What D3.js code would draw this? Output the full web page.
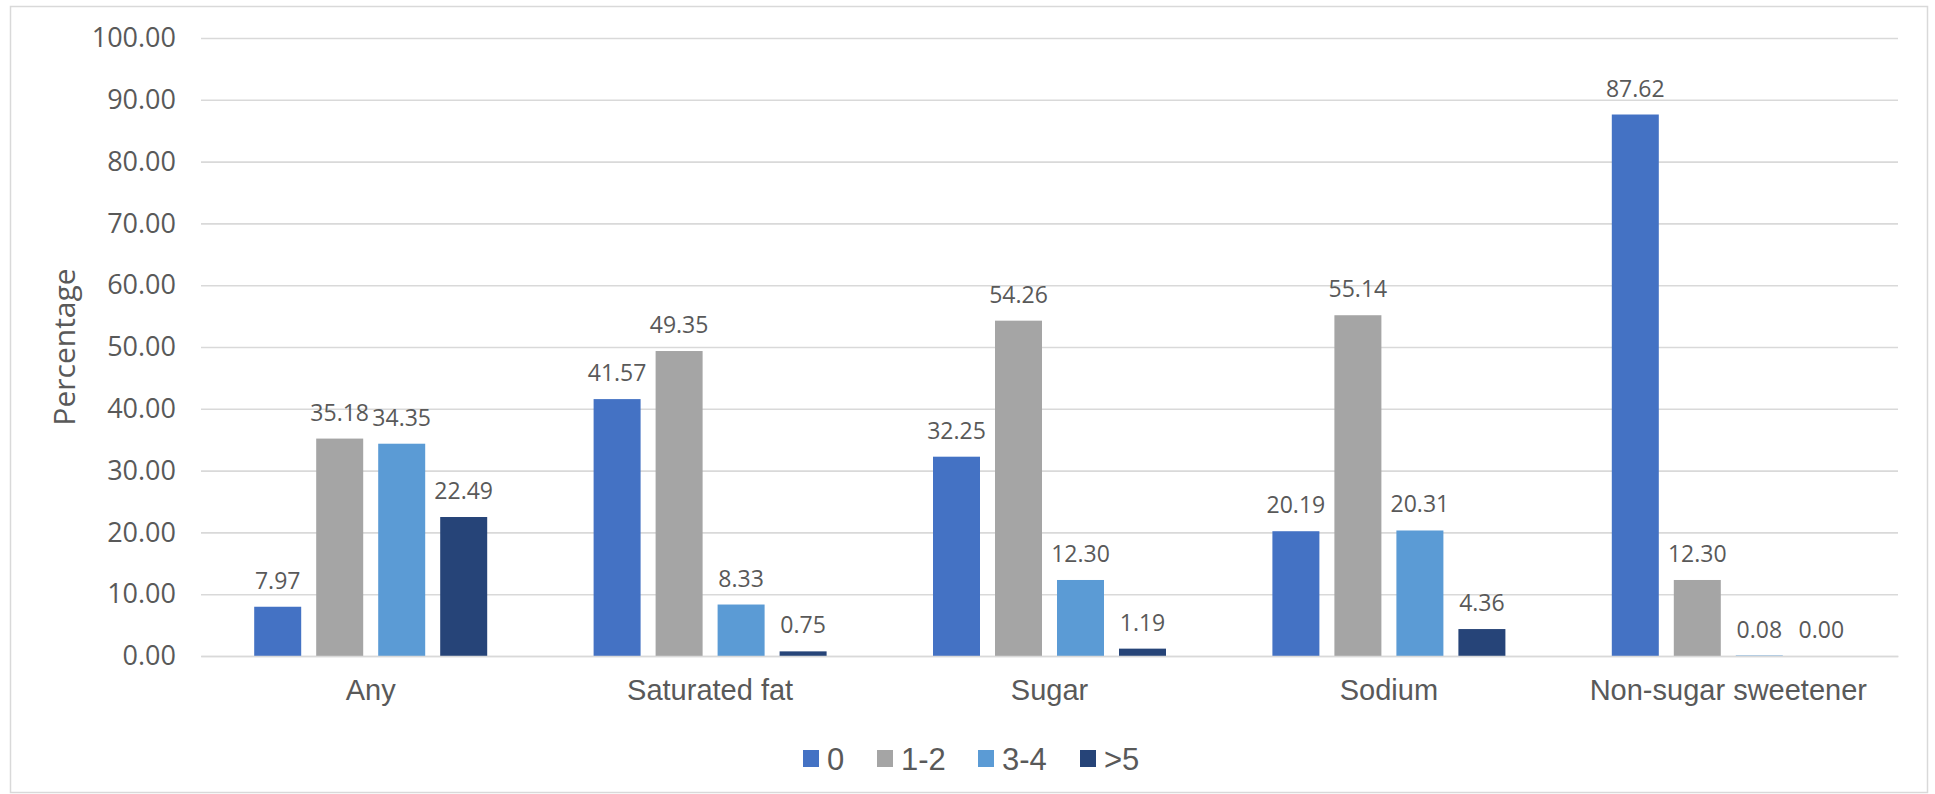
<!DOCTYPE html>
<html>
<head>
<meta charset="utf-8">
<script src="https://cdn.jsdelivr.net/npm/d3@7"></script>
<style>
  html, body { margin: 0; padding: 0; background: #fff; }
  svg { display: block; }
</style>
</head>
<body>
<svg id="chart" width="1935" height="794"></svg>
<script>
// Nutrient-warning categories and the share of products in each count band
const categories = ["Any", "Saturated fat", "Sugar", "Sodium", "Non-sugar sweetener"];
const seriesNames = ["0", "1-2", "3-4", ">5"];
const values0  = [7.97, 41.57, 32.25, 20.19, 87.62];
const values12 = [35.18, 49.35, 54.26, 55.14, 12.30];
const values34 = [34.35, 8.33, 12.30, 20.31, 0.08];
const values5  = [22.49, 0.75, 1.19, 4.36, 0.00];
const yTicks = [0, 10, 20, 30, 40, 50, 60, 70, 80, 90, 100];
const colors = ["#4472C4", "#A5A5A5", "#5B9BD5", "#264478"];

const seriesValues = [values0, values12, values34, values5];
const rows = categories.map((c, i) => ({
  category: c,
  bars: seriesNames.map((s, j) => ({ series: s, value: seriesValues[j][i], color: colors[j] }))
}));

const svg = d3.select("#chart");
const plot = { left: 201, right: 1898, top: 38, bottom: 656 };
const textColor = "#595959";

// Outer chart frame
svg.append("rect")
  .attr("x", 10.5).attr("y", 6.5)
  .attr("width", 1917).attr("height", 786)
  .attr("fill", "#fff")
  .attr("stroke", "#D9D9D9")
  .attr("stroke-width", 1.5);

const y = d3.scaleLinear().domain([0, 100]).range([plot.bottom, plot.top]);
const x0 = d3.scaleBand().domain(categories).range([plot.left, plot.right]).paddingInner(0).paddingOuter(0);
// Four bars per group: 47px wide on a ~62px pitch
const x1 = d3.scaleBand().domain(seriesNames)
  .range([x0.bandwidth() / 2 - 124, x0.bandwidth() / 2 + 124])
  .paddingInner(15 / 62).paddingOuter(7.5 / 62);

// Gridlines and value ticks
const yAxis = d3.axisLeft(y).tickValues(yTicks).tickSize(-(plot.right - plot.left)).tickFormat(d => d.toFixed(2));
const gy = svg.append("g").attr("transform", `translate(${plot.left},0)`).call(yAxis);
gy.select(".domain").remove();
gy.selectAll(".tick line").attr("stroke", "#D9D9D9").attr("stroke-width", 1.6);
gy.selectAll(".tick text")
  .attr("x", -25)
  .attr("fill", textColor)
  .style("font-family", "'Open Sans', sans-serif")
  .style("font-size", "27px");

// Bars
const groups = svg.append("g").selectAll("g").data(rows).join("g")
  .attr("transform", d => `translate(${x0(d.category)},0)`);

groups.selectAll("rect").data(d => d.bars).join("rect")
  .attr("x", d => x1(d.series))
  .attr("y", d => y(d.value))
  .attr("width", x1.bandwidth())
  .attr("height", d => y(0) - y(d.value))
  .attr("fill", d => d.color);

// Value labels
groups.selectAll("text.val").data(d => d.bars).join("text")
  .attr("class", "val")
  .attr("x", d => x1(d.series) + x1.bandwidth() / 2)
  .attr("y", d => y(d.value) - 18)
  .attr("text-anchor", "middle")
  .attr("fill", textColor)
  .style("font-family", "'Open Sans', sans-serif")
  .style("font-size", "23px")
  .text(d => d.value.toFixed(2));

// Category axis
const xAxis = d3.axisBottom(x0).tickSize(0).tickPadding(0);
const gx = svg.append("g").attr("transform", `translate(0,${plot.bottom})`).call(xAxis);
gx.select(".domain").attr("stroke", "#D9D9D9").attr("stroke-width", 1.6);
gx.selectAll(".tick text")
  .attr("y", 44)
  .attr("dy", 0)
  .attr("fill", textColor)
  .style("font-family", "'Liberation Sans', Arial, sans-serif")
  .style("font-size", "29px");

// Y axis title
svg.append("text")
  .attr("transform", `translate(75,${(plot.top + plot.bottom) / 2}) rotate(-90)`)
  .attr("text-anchor", "middle")
  .attr("fill", textColor)
  .style("font-family", "'Open Sans', sans-serif")
  .style("font-size", "30px")
  .text("Percentage");

// Legend
const legendItems = [
  { name: seriesNames[0], color: colors[0], x: 803 },
  { name: seriesNames[1], color: colors[1], x: 877 },
  { name: seriesNames[2], color: colors[2], x: 978 },
  { name: seriesNames[3], color: colors[3], x: 1080 }
];
const legend = svg.append("g");
const li = legend.selectAll("g").data(legendItems).join("g")
  .attr("transform", d => `translate(${d.x},750)`);
li.append("rect").attr("width", 16).attr("height", 17).attr("fill", d => d.color);
li.append("text")
  .attr("x", 24).attr("y", 20)
  .attr("fill", textColor)
  .style("font-family", "'Liberation Sans', Arial, sans-serif")
  .style("font-size", "31px")
  .text(d => d.name);
</script>
</body>
</html>
